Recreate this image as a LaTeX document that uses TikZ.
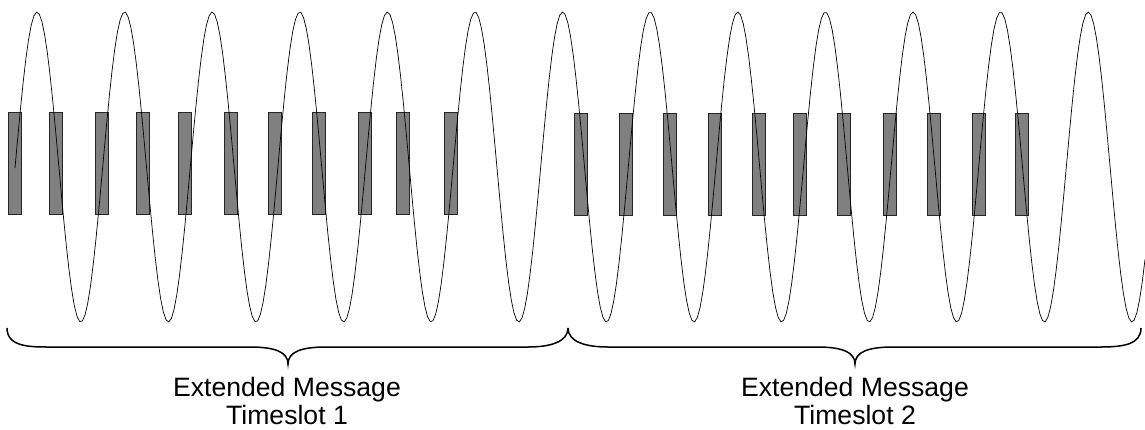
\documentclass[tikz,border=0pt]{standalone}
\usepackage{fontspec}
\setmainfont{Liberation Sans}
\begin{document}
\begin{tikzpicture}[x=1pt,y=-1pt,
  slotbox/.style={draw=black!85,line width=0.8pt,fill=black!50},
  wave/.style={draw=black,line width=0.7pt},
  bracepath/.style={draw=black,line width=1.5pt},
  lbl/.style={font=\fontsize{26.6}{28.5}\selectfont,align=center,inner sep=0pt,anchor=north}]
\useasboundingbox (0,0) rectangle (1145,429);
% slots, timeslot 1
\foreach \x [count=\i] in {8,49,95,136,178,224,268,312,358,396,444}
  \node[slotbox,minimum width=13pt,minimum height=102pt,inner sep=0pt,anchor=north west] (a\i) at (\x,111.5) {};
% slots, timeslot 2
\foreach \x [count=\i] in {574,619,663,708,752,793,837,883,927,972,1015}
  \node[slotbox,minimum width=13pt,minimum height=102pt,inner sep=0pt,anchor=north west] (b\i) at (\x,113) {};
% carrier wave
\draw[wave] plot[domain=15:1145,samples=420] (\x,{167-155*cos((\x-37)*4.10959)});
% braces
\coordinate (l0) at (7,328);
\coordinate (lm) at (288,364);
\coordinate (l1) at (568,328);
\coordinate (r1) at (1141,328);
\coordinate (rm) at (855,364);
\draw[bracepath] (l0) .. controls (7,347) and (30,347) .. (50,347)
  -- (250,347) .. controls (275,347) and (288,352) .. (lm)
  .. controls (288,352) and (301,347) .. (326,347)
  -- (528,347) .. controls (550,347) and (568,342) .. (l1);
\draw[bracepath] (l1) .. controls (568,342) and (586,347) .. (608,347)
  -- (817,347) .. controls (842,347) and (855,352) .. (rm)
  .. controls (855,352) and (868,347) .. (893,347)
  -- (1101,347) .. controls (1124,347) and (1141,344) .. (r1);
% labels
\node[lbl] (t1) at (287,377) {Extended Message\\Timeslot 1};
\node[lbl] (t2) at (855,377) {Extended Message\\Timeslot 2};
\end{tikzpicture}
\end{document}
